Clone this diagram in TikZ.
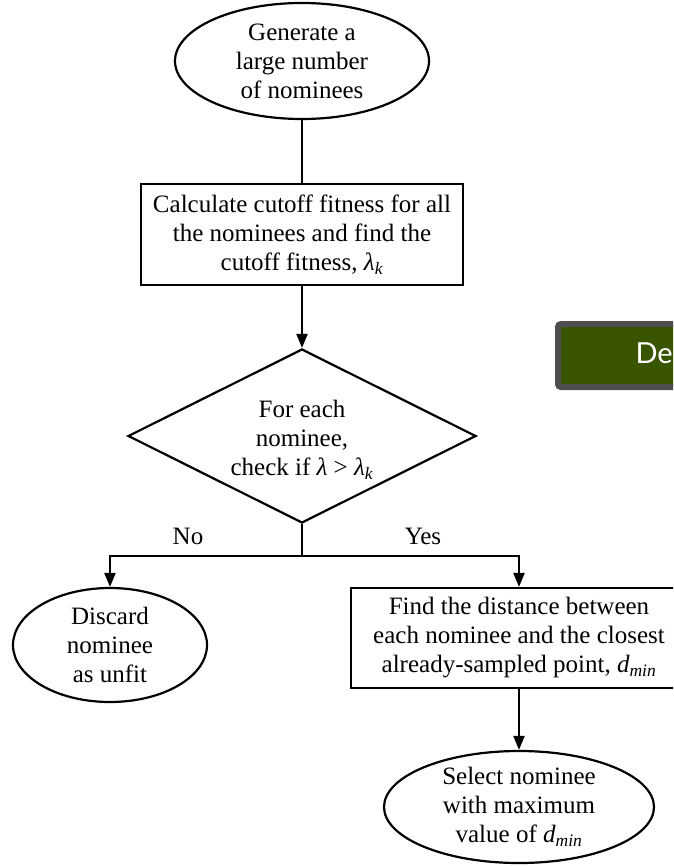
\documentclass[tikz,border=0pt]{standalone}
\usepackage{fontspec}
\setmainfont{Liberation Serif}
\newfontfamily\bannerfont{Lato}
\usetikzlibrary{shapes.geometric,arrows.meta}
\newcommand{\lamk}{\textit{λ}\textsubscript{\textit{k}}}
\newcommand{\dmin}{\textit{d}\textsubscript{\textit{min}}}
\definecolor{bannergreen}{RGB}{58,85,0}
\definecolor{bannergray}{RGB}{78,78,80}
\begin{document}
\begin{tikzpicture}[x=1pt,y=-1pt,
  every node/.style={font=\fontsize{25}{29}\selectfont, text=black},
  edge/.style={line width=2.2pt},
  arr/.style={edge,-{Triangle[length=14pt,width=11pt]}},
  term/.style={draw, ellipse, line width=2.2pt, inner sep=0pt, align=center},
  proc/.style={draw, rectangle, line width=2.2pt, inner sep=0pt, align=center},
  dec/.style={draw, diamond, line width=2.2pt, inner sep=0pt},
  banner/.style={draw=bannergray, fill=bannergreen, line width=6pt, rounded corners=3pt, inner sep=0pt}]
\useasboundingbox (0,0) rectangle (673,866);
\clip (0,0) rectangle (673,866);

% flowchart nodes
\node[term, minimum width=254pt, minimum height=116pt] (gen) at (302,61)
  {Generate a\\large number\\of nominees};
\node[proc, minimum width=322pt, minimum height=101pt] (calc) at (302,234.5)
  {Calculate cutoff fitness for all\\the nominees and find the\\cutoff fitness, \lamk};
\node[dec, minimum width=348pt, minimum height=174pt] (chk) at (302,436) {};
\node[align=center] (chktext) at (302,440)
  {For each\\nominee,\\check if \textit{λ} > \lamk};
\coordinate (split) at (302,556);
\coordinate (lft) at (110,556);
\coordinate (rgt) at (519,556);
\node[term, minimum width=194pt, minimum height=114pt] (disc) at (110,645)
  {Discard\\nominee\\as unfit};
\node[proc, minimum width=336pt, minimum height=100pt] (dist) at (519,638)
  {Find the distance between\\each nominee and the closest\\already-sampled point, \dmin};
\node[term, minimum width=270pt, minimum height=112pt] (sel) at (519,807)
  {Select nominee\\with maximum\\value of \dmin};

% branch labels
\node (no) at (188,536) {No};
\node (yes) at (423,536) {Yes};

% connectors
\draw[edge] (gen) -- (calc);
\draw[arr] (calc) -- (chk);
\draw[edge] (chk.south) -- (split);
\draw[arr] (split) -- (lft) -- (disc.north);
\draw[arr] (split) -- (rgt) -- (dist.north);
\draw[arr] (dist) -- (sel);

% slide banner at the right edge
\node[banner, minimum width=170pt, minimum height=63pt, anchor=north west] (bar) at (555,321) {};
\node[font=\bannerfont\fontsize{29}{34}\selectfont, text=white, anchor=base west] (bartext) at (632,363) {De};
\end{tikzpicture}
\end{document}
